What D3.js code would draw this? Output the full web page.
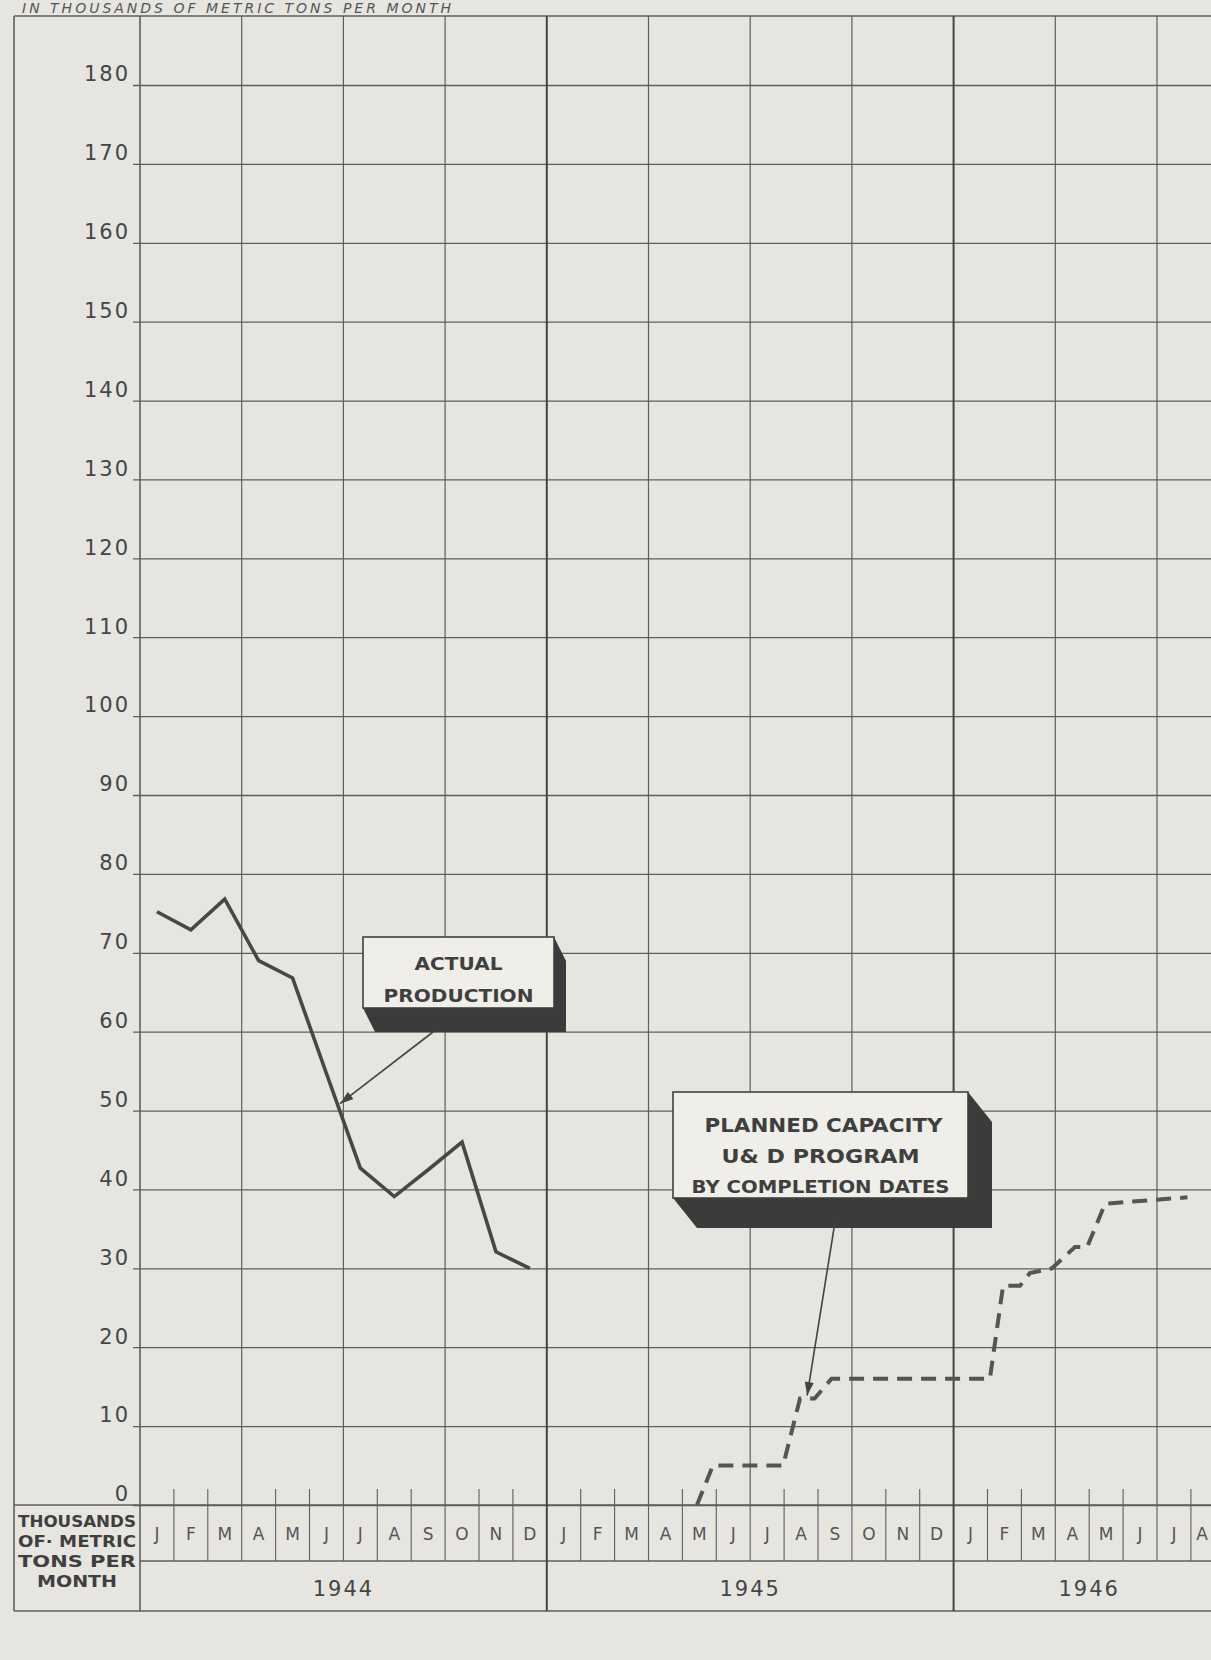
<!DOCTYPE html>
<html>
<head>
<meta charset="utf-8">
<script src="https://cdn.jsdelivr.net/npm/d3@7"></script>
<style>
  body { margin: 0; background: #e7e5e0; }
  svg { display: block; }
</style>
</head>
<body>
<div id="chart"></div>
<script>
// month initials and years along the bottom
const monthInitials = ["J", "F", "M", "A", "M", "J", "J", "A", "S", "O", "N", "D"];
const yearLabels = ["1944", "1945", "1946"];
const monthsShown = 32; // Jan 1944 .. Aug 1946
const yTicks = [0, 10, 20, 30, 40, 50, 60, 70, 80, 90, 100, 110, 120, 130, 140, 150, 160, 170, 180];

// actual production, 1944 (month index from Jan 1944)
const actualMonth = [0, 1, 2, 3, 4, 5, 6, 7, 8, 9, 10, 11];
const actualValue = [75.2, 72.9, 76.8, 69.0, 66.8, 54.7, 42.7, 39.1, 42.5, 46.0, 32.1, 30.0];

// planned capacity, U&D program (corners of the stepped dashed line)
const plannedMonth = [16.43, 16.9, 18.97, 19.47, 19.9, 20.4, 25.07, 25.46, 25.96, 26.25, 26.9, 27.58, 27.94, 28.47, 30.9];
const plannedValue = [0, 5, 5, 13.5, 13.5, 16, 16, 27.8, 27.8, 29.4, 30, 32.7, 32.7, 38.2, 39];

const width = 1211, height = 1660;
const ink = "#454545", gridInk = "#5e5e5e";
const font = "DejaVu Sans, Liberation Sans, sans-serif";

const svg = d3.select("#chart")
  .append("svg")
  .attr("width", width)
  .attr("height", height)
  .style("background", "#e7e5e0");

// Scales
const x = d3.scaleLinear().domain([0, monthsShown]).range([140, 140 + monthsShown * 33.9]);
const y = d3.scaleLinear().domain([0, 180]).range([1505, 85]);

const frameTop = 16, frameLeft = 14;
const monthRowBottom = 1561, yearRowBottom = 1611;

// caption at the top
svg.append("text")
  .attr("x", 22).attr("y", 13)
  .attr("font-family", font).attr("font-style", "italic")
  .attr("font-size", 14).attr("letter-spacing", 3)
  .attr("fill", "#555")
  .text("IN THOUSANDS OF METRIC TONS PER MONTH");

// Horizontal grid + value labels
const gy = svg.append("g")
  .attr("transform", `translate(${x(0)},0)`)
  .call(d3.axisLeft(y).tickValues(yTicks).tickSize(-(width - x(0))).tickPadding(10));
gy.select(".domain").remove();
gy.selectAll(".tick line")
  .attr("x1", -7)
  .attr("stroke", gridInk)
  .attr("stroke-width", 1.3);
gy.selectAll(".tick text")
  .attr("dy", "-0.2em")
  .attr("fill", ink)
  .attr("font-family", font)
  .attr("font-size", 21)
  .attr("letter-spacing", 2);

// Frame
const frame = svg.append("g").attr("stroke", gridInk).attr("fill", "none");
frame.append("line").attr("x1", frameLeft).attr("x2", width).attr("y1", frameTop).attr("y2", frameTop).attr("stroke-width", 1.6);
frame.append("line").attr("x1", frameLeft).attr("x2", frameLeft).attr("y1", frameTop).attr("y2", yearRowBottom).attr("stroke-width", 1.6);
frame.append("line").attr("x1", x(0)).attr("x2", x(0)).attr("y1", frameTop).attr("y2", yearRowBottom).attr("stroke-width", 1.6);
frame.append("line").attr("x1", frameLeft).attr("x2", width).attr("y1", y(0)).attr("y2", y(0)).attr("stroke-width", 1.6);
frame.append("line").attr("x1", x(0)).attr("x2", width).attr("y1", monthRowBottom).attr("y2", monthRowBottom).attr("stroke-width", 1.6);
frame.append("line").attr("x1", frameLeft).attr("x2", width).attr("y1", yearRowBottom).attr("y2", yearRowBottom).attr("stroke-width", 1.6);

// Vertical quarter lines and year boundaries
const quarters = d3.range(3, monthsShown, 3);
frame.selectAll(".q")
  .data(quarters.filter(m => m % 12 !== 0))
  .enter().append("line")
  .attr("x1", d => x(d)).attr("x2", d => x(d))
  .attr("y1", frameTop).attr("y2", y(0))
  .attr("stroke-width", 1.2);
frame.selectAll(".yr")
  .data([12, 24])
  .enter().append("line")
  .attr("x1", d => x(d)).attr("x2", d => x(d))
  .attr("y1", frameTop).attr("y2", yearRowBottom)
  .attr("stroke", "#444")
  .attr("stroke-width", 2);

// Month separators (small ticks above the base line)
frame.selectAll(".m")
  .data(d3.range(1, monthsShown).filter(m => m % 12 !== 0))
  .enter().append("line")
  .attr("x1", d => x(d)).attr("x2", d => x(d))
  .attr("y1", d => d % 3 === 0 ? y(0) : y(0) - 16).attr("y2", monthRowBottom)
  .attr("stroke-width", 1.1);

// Month labels
svg.append("g")
  .selectAll("text")
  .data(d3.range(monthsShown))
  .enter().append("text")
  .attr("x", d => Math.min(x(d + 0.5), width - 9))
  .attr("y", (y(0) + monthRowBottom) / 2 + 7)
  .attr("text-anchor", "middle")
  .attr("font-family", font).attr("font-size", 17)
  .attr("fill", "#555")
  .text(d => monthInitials[d % 12]);

// Year labels
svg.append("g")
  .selectAll("text")
  .data(yearLabels)
  .enter().append("text")
  .attr("x", (d, i) => x(i * 12 + Math.min(12, monthsShown - i * 12) / 2))
  .attr("y", yearRowBottom - 15)
  .attr("text-anchor", "middle")
  .attr("font-family", font).attr("font-size", 21)
  .attr("letter-spacing", 2)
  .attr("fill", ink)
  .text(d => d);

// Unit box at bottom-left
const unitLines = ["THOUSANDS", "OF· METRIC", "TONS  PER", "MONTH"];
svg.append("g")
  .selectAll("text")
  .data(unitLines)
  .enter().append("text")
  .attr("x", (frameLeft + x(0)) / 2)
  .attr("y", (d, i) => 1527 + i * 20)
  .attr("text-anchor", "middle")
  .attr("font-family", font).attr("font-size", 16)
  .attr("font-weight", "bold")
  .attr("fill", "#3f3f3f")
  .attr("textLength", (d, i) => i < 3 ? 118 : 80)
  .attr("lengthAdjust", "spacingAndGlyphs")
  .text(d => d);

// Lines
const actual = actualMonth.map((m, i) => ({ m: m + 0.5, v: actualValue[i] }));
const planned = plannedMonth.map((m, i) => ({ m: m, v: plannedValue[i] }));
const line = d3.line().x(d => x(d.m)).y(d => y(d.v));

svg.append("path")
  .datum(actual)
  .attr("d", line)
  .attr("fill", "none")
  .attr("stroke", "#474747")
  .attr("stroke-width", 3.6)
  .attr("stroke-linejoin", "miter");

svg.append("path")
  .datum(planned)
  .attr("d", line)
  .attr("fill", "none")
  .attr("stroke", "#555")
  .attr("stroke-width", 4)
  .attr("stroke-dasharray", "15 9");

// value on a series at a fractional month
function valueAt(series, m) {
  for (let i = 1; i < series.length; i++) {
    if (m <= series[i].m) {
      const a = series[i - 1], b = series[i];
      return a.v + (b.v - a.v) * (m - a.m) / (b.m - a.m);
    }
  }
  return series[series.length - 1].v;
}

// Arrowhead
svg.append("defs").append("marker")
  .attr("id", "head")
  .attr("viewBox", "0 0 12 8")
  .attr("refX", 12).attr("refY", 4)
  .attr("markerWidth", 14).attr("markerHeight", 9)
  .attr("markerUnits", "userSpaceOnUse")
  .attr("orient", "auto")
  .append("path").attr("d", "M0,0 L12,4 L0,8 Z").attr("fill", "#444");

// Callout boxes with a dark 3D edge
function callout(x0, y0, w, h, dx, dy, lines) {
  const g = svg.append("g");
  g.append("polygon")
    .attr("points", [
      [x0, y0 + h], [x0 + dx, y0 + h + dy], [x0 + w + dx, y0 + h + dy],
      [x0 + w + dx, y0 + dy], [x0 + w, y0]
    ].map(p => p.join(",")).join(" "))
    .attr("fill", "#3b3b3b");
  g.append("rect")
    .attr("x", x0).attr("y", y0).attr("width", w).attr("height", h)
    .attr("fill", "#efeee9").attr("stroke", "#404040").attr("stroke-width", 1.6);
  lines.forEach(l => {
    g.append("text")
      .attr("x", x0 + w / 2 + (l.dx || 0)).attr("y", y0 + l.y)
      .attr("text-anchor", "middle")
      .attr("font-family", font).attr("font-size", l.size)
      .attr("font-weight", "bold")
      .attr("fill", "#3f3f3f")
      .attr("textLength", l.len).attr("lengthAdjust", "spacingAndGlyphs")
      .text(l.t);
  });
}

callout(363, 937, 191, 71, 12, 24, [
  { t: "ACTUAL", y: 33, size: 18, len: 88 },
  { t: "PRODUCTION", y: 65, size: 18, len: 150 }
]);

callout(673, 1092, 295, 106, 24, 30, [
  { t: "PLANNED CAPACITY", y: 40, size: 20, len: 238, dx: 3 },
  { t: "U& D  PROGRAM", y: 71, size: 20, len: 198 },
  { t: "BY COMPLETION DATES", y: 101, size: 17, len: 258 }
]);

// Pointer arrows
const aM = 5.84;
svg.append("line")
  .attr("x1", 433).attr("y1", 1032)
  .attr("x2", x(aM) + 2).attr("y2", y(valueAt(actual, aM)) - 2)
  .attr("stroke", "#444").attr("stroke-width", 1.6)
  .attr("marker-end", "url(#head)");

const pM = 19.68;
svg.append("line")
  .attr("x1", 835).attr("y1", 1222)
  .attr("x2", x(pM)).attr("y2", y(valueAt(planned, pM)) - 3)
  .attr("stroke", "#444").attr("stroke-width", 1.6)
  .attr("marker-end", "url(#head)");
</script>
</body>
</html>
